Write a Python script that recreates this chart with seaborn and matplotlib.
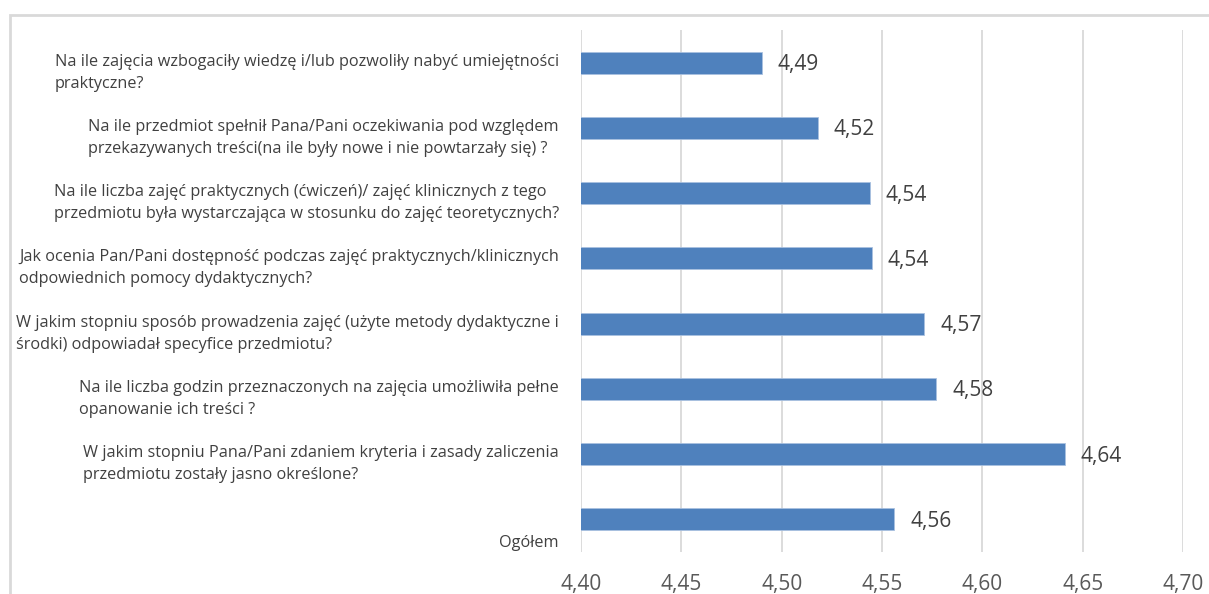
import matplotlib
matplotlib.use("Agg")
import matplotlib.pyplot as plt
import seaborn as sns
import pandas as pd
from matplotlib.patches import Rectangle

questions = [
    "Na ile zajęcia wzbogaciły wiedzę i/lub pozwoliły nabyć umiejętności\npraktyczne?",
    "Na ile przedmiot spełnił Pana/Pani oczekiwania pod względem\nprzekazywanych treści(na ile były nowe i nie powtarzały się) ?",
    "Na ile liczba zajęć praktycznych (ćwiczeń)/ zajęć klinicznych z tego\nprzedmiotu była wystarczająca w stosunku do zajęć teoretycznych?",
    "Jak ocenia Pan/Pani dostępność podczas zajęć praktycznych/klinicznych\nodpowiednich pomocy dydaktycznych?",
    "W jakim stopniu sposób prowadzenia zajęć (użyte metody dydaktyczne i\nśrodki) odpowiadał specyfice przedmiotu?",
    "Na ile liczba godzin przeznaczonych na zajęcia umożliwiła pełne\nopanowanie ich treści ?",
    "W jakim stopniu Pana/Pani zdaniem kryteria i zasady zaliczenia\nprzedmiotu zostały jasno określone?",
    "Ogółem",
]
scores = [4.49, 4.518, 4.544, 4.545, 4.571, 4.577, 4.641, 4.556]
xticks = [4.40, 4.45, 4.50, 4.55, 4.60, 4.65, 4.70]

df = pd.DataFrame({"pytanie": questions, "ocena": scores})

sns.set_style("white")
plt.rcParams["font.family"] = ["Open Sans", "DejaVu Sans"]

fig = plt.figure(figsize=(12.09, 5.94), dpi=100)
ax = fig.add_axes([581 / 1209, 1 - 552 / 594, (1183 - 581) / 1209, (552 - 30) / 594])

sns.barplot(data=df, x="ocena", y="pytanie", orient="h", color="#4f81bd",
            width=0.34, edgecolor="#a9c1e0", linewidth=0.6, saturation=1, ax=ax)

ax.set_xlim(xticks[0], xticks[-1])
ax.set_ylim(len(questions) - 0.5, -0.5)
ax.set_xticks(xticks)
ax.set_xticklabels([f"{t:.2f}".replace(".", ",") for t in xticks],
                   fontsize=15, color="#595959")
ax.tick_params(axis="x", length=0, pad=16)
ax.set_yticks([])
ax.set_xlabel("")
ax.set_ylabel("")
for s in ax.spines.values():
    s.set_visible(False)
ax.grid(axis="x", color="#d9d9d9", linewidth=1.3)
ax.set_axisbelow(True)

# question labels on the left
for i, q in enumerate(questions):
    dy = -24 if q == "Ogółem" else -10
    ax.annotate(q, xy=(0, i), xycoords=("axes fraction", "data"),
                xytext=(-22, dy), textcoords="offset pixels",
                ha="right", va="center", multialignment="left",
                fontsize=11.7, color="#404040", linespacing=1.5)

# value labels
for i, v in enumerate(scores):
    ax.annotate(f"{v:.2f}".replace(".", ","), xy=(v, i), xycoords="data",
                xytext=(16, -2), textcoords="offset pixels",
                ha="left", va="center", fontsize=15, color="#404040")

# chart area border (cropped)
fig.patches.append(Rectangle((10 / 1209, -0.1), 1.2, 1 - 15 / 594 + 0.1,
                             transform=fig.transFigure, fill=False,
                             edgecolor="#d9d9d9", linewidth=2))

fig.savefig("out.png", dpi=100)
